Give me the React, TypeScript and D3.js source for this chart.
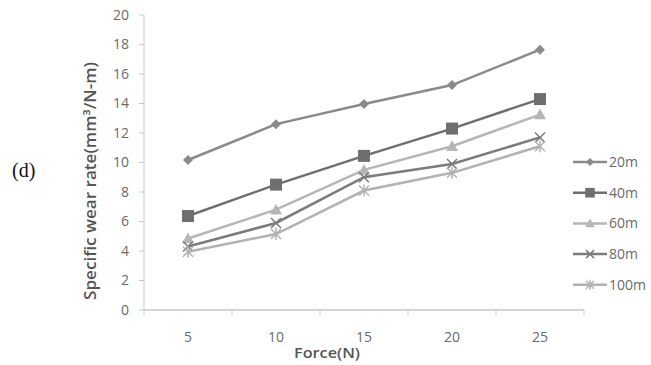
import React from "react";
import * as d3 from "d3";

const categories = ["5", "10", "15", "20", "25"];
const seriesNames = ["20m", "40m", "60m", "80m", "100m"];
const s20 = [10.17, 12.6, 13.97, 15.25, 17.65];
const s40 = [6.37, 8.5, 10.45, 12.3, 14.3];
const s60 = [4.85, 6.8, 9.5, 11.1, 13.25];
const s80 = [4.3, 5.9, 9.0, 9.9, 11.7];
const s100 = [3.95, 5.15, 8.1, 9.3, 11.1];
const seriesValues = [s20, s40, s60, s80, s100];
const yTicks = [0, 2, 4, 6, 8, 10, 12, 14, 16, 18, 20];

const colors = ["#8a8a8a", "#6f6f6f", "#b6b6b6", "#7b7b7b", "#b2b2b2"];
const markers = ["diamond", "square", "triangle", "x", "star"];

const FONT = "'Open Sans', 'Liberation Sans', sans-serif";

function Marker({ type, x, y, color, s = 1 }: { type: string; x: number; y: number; color: string; s?: number }) {
  if (type === "diamond") {
    const r = 5 * s;
    return <path d={`M${x},${y - r}L${x + r},${y}L${x},${y + r}L${x - r},${y}Z`} fill={color} />;
  }
  if (type === "square") {
    const r = 6 * s;
    return <rect x={x - r} y={y - r} width={2 * r} height={2 * r} fill={color} />;
  }
  if (type === "triangle") {
    const r = 6 * s;
    return <path d={`M${x},${y - r}L${x + r},${y + r * 0.8}L${x - r},${y + r * 0.8}Z`} fill={color} />;
  }
  if (type === "x") {
    const r = 5 * s;
    return (
      <path d={`M${x - r},${y - r}L${x + r},${y + r}M${x - r},${y + r}L${x + r},${y - r}`} stroke={color} strokeWidth={1.5} />
    );
  }
  const r = 5 * s;
  return (
    <path
      d={`M${x - r},${y - r}L${x + r},${y + r}M${x - r},${y + r}L${x + r},${y - r}M${x},${y - r - 1}L${x},${y + r + 1}`}
      stroke={color}
      strokeWidth={1.5}
    />
  );
}

export default function App() {
  const W = 651;
  const H = 365;
  const left = 144;
  const right = 584;
  const top = 15;
  const bottom = 310;

  const x = d3.scaleBand<string>().domain(categories).range([left, right]).padding(0);
  const y = d3.scaleLinear().domain([0, 20]).range([bottom, top]);
  const line = d3
    .line<number>()
    .x((_, i) => (x(categories[i]) as number) + x.bandwidth() / 2)
    .y((v) => y(v));

  const axisColor = "#c9c9c9";
  const textColor = "#6a6a6a";

  return (
    <svg
      width={W}
      height={H}
      style={{ position: "absolute", left: 0, top: 0, background: "#fff" }}
      fontFamily={FONT}
    >
      <rect width={W} height={H} fill="#fff" />
      <text x={12} y={177} fontFamily="'Liberation Serif', 'DejaVu Serif', serif" fontSize={20} fill="#111">
        (d)
      </text>
      <line x1={left} x2={left} y1={top} y2={bottom} stroke={axisColor} strokeWidth={1} />
      {yTicks.map((t) => (
        <g key={t}>
          <line x1={left - 5} x2={left} y1={y(t)} y2={y(t)} stroke={axisColor} />
          <text x={129} y={y(t)} dy="0.35em" textAnchor="end" fontSize={14} fill={textColor}>
            {t}
          </text>
        </g>
      ))}
      <line x1={left} x2={right} y1={bottom} y2={bottom} stroke={axisColor} strokeWidth={1.5} />
      {categories.map((c) => (
        <g key={c}>
          <line x1={x(c) as number} x2={x(c) as number} y1={bottom} y2={bottom + 5} stroke={axisColor} />
          <text
            x={(x(c) as number) + x.bandwidth() / 2}
            y={337}
            dy="0.35em"
            textAnchor="middle"
            fontSize={14}
            fill={textColor}
          >
            {c}
          </text>
        </g>
      ))}
      <line x1={right} x2={right} y1={bottom} y2={bottom + 5} stroke={axisColor} />
      <text
        x={327}
        y={353}
        dy="0.35em"
        textAnchor="middle"
        fontSize={14}
        fontWeight={600}
        fill="#555"
        textLength={66}
        lengthAdjust="spacingAndGlyphs"
      >
        Force(N)
      </text>
      <text
        transform={`translate(91,181) rotate(-90)`}
        textAnchor="middle"
        dy="0.35em"
        fontSize={15.5}
        fontWeight={600}
        fill="#555"
        textLength={238}
        lengthAdjust="spacingAndGlyphs"
      >
        Specific wear rate(mm³/N-m)
      </text>
      {seriesValues.map((vals, si) => (
        <g key={seriesNames[si]}>
          <path d={line(vals) as string} fill="none" stroke={colors[si]} strokeWidth={2.5} />
          {vals.map((v, i) => (
            <Marker
              key={i}
              type={markers[si]}
              x={(x(categories[i]) as number) + x.bandwidth() / 2}
              y={y(v)}
              color={colors[si]}
            />
          ))}
        </g>
      ))}
      {seriesNames.map((n, si) => {
        const ly = 162 + si * 30.7;
        return (
          <g key={n}>
            <line x1={573} x2={607} y1={ly} y2={ly} stroke={colors[si]} strokeWidth={2.5} />
            <Marker type={markers[si]} x={590} y={ly} color={colors[si]} s={0.8} />
            <text x={609} y={ly} dy="0.35em" fontSize={14} fill={textColor}>
              {n}
            </text>
          </g>
        );
      })}
    </svg>
  );
}
